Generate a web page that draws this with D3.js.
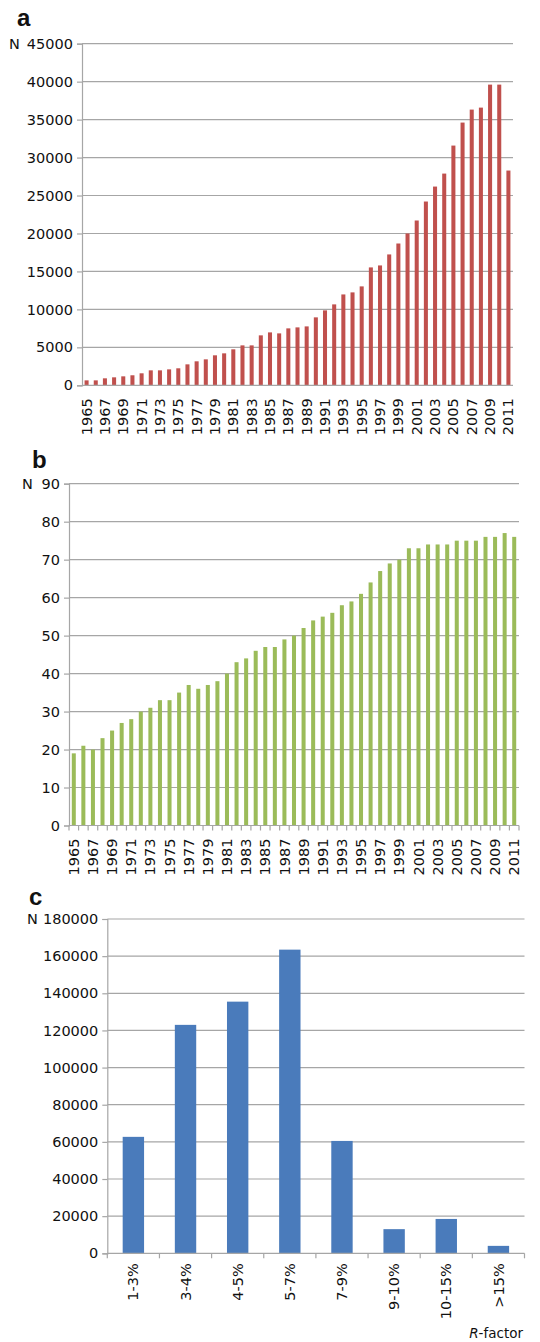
<!DOCTYPE html>
<html>
<head>
<meta charset="utf-8">
<script src="https://cdn.jsdelivr.net/npm/d3@7"></script>
<style>
  html, body { margin: 0; padding: 0; background: #fff; }
  svg { display: block; }
  text { font-family: "DejaVu Sans", Verdana, sans-serif; fill: #111; }
  .panel-letter { font-family: "Liberation Sans", Arial, sans-serif; font-weight: bold; font-size: 24px; }
</style>
</head>
<body>
<svg id="fig" width="540" height="1342"></svg>
<script>
// Years covered by panels a and b
const years = d3.range(1965, 2012);

// Panel a: number of entries per year
const entriesPerYear = [
  650, 650, 920, 1050, 1180, 1320, 1580, 1970, 1970, 2100,
  2240, 2760, 3160, 3420, 3950, 4210, 4740, 5260, 5260, 6580,
  6970, 6840, 7500, 7630, 7760, 8950, 9870, 10660, 11970, 12240,
  13030, 15530, 15790, 17240, 18680, 20000, 21710, 24210, 26180, 27890,
  31580, 34610, 36320, 36580, 39610, 39610, 28290
];

// Panel b: second yearly count
const countPerYear = [
  19, 21, 20, 23, 25, 27, 28, 30, 31, 33,
  33, 35, 37, 36, 37, 38, 40, 43, 44, 46,
  47, 47, 49, 50, 52, 54, 55, 56, 58, 59,
  61, 64, 67, 69, 70, 73, 73, 74, 74, 74,
  75, 75, 75, 76, 76, 77, 76
];

// Panel c: distribution over R-factor ranges
const rFactorBins = ["1-3%", "3-4%", "4-5%", "5-7%", "7-9%", "9-10%", "10-15%", ">15%"];
const rFactorCounts = [62700, 123000, 135500, 163500, 60500, 13000, 18500, 4000];

// Axis tick values
const ticksA = d3.range(0, 45001, 5000);
const ticksB = d3.range(0, 91, 10);
const ticksC = d3.range(0, 180001, 20000);
const yearLabels = years.filter(y => (y - 1965) % 2 === 0);

const svg = d3.select("#fig");
const gridColor = "#a6a6a6";
const fontSize = 14.5;

function drawPanel(opt) {
  const g = svg.append("g");
  const x = d3.scaleBand()
    .domain(opt.categories)
    .range([opt.left, opt.right])
    .paddingInner(opt.pad)
    .paddingOuter(opt.pad / 2);
  const y = d3.scaleLinear()
    .domain([0, opt.max])
    .range([opt.bottom, opt.top]);

  // horizontal gridlines
  g.append("g").selectAll("line")
    .data(opt.yTicks.filter(t => t > 0))
    .join("line")
    .attr("x1", opt.left).attr("x2", opt.right)
    .attr("y1", d => y(d)).attr("y2", d => y(d))
    .attr("stroke", gridColor).attr("stroke-width", 1.2);

  // y axis
  const yAxis = d3.axisLeft(y).tickValues(opt.yTicks).tickSize(5).tickPadding(4).tickFormat(d3.format("d"));
  const ya = g.append("g").attr("transform", `translate(${opt.left},0)`).call(yAxis);
  ya.select(".domain").attr("stroke", gridColor).attr("stroke-width", 1.2);
  ya.selectAll(".tick line").attr("stroke", gridColor).attr("stroke-width", 1.2);
  ya.selectAll(".tick text").attr("font-family", "DejaVu Sans").attr("font-size", fontSize).attr("fill", "#111");

  // bars
  g.append("g").selectAll("rect")
    .data(opt.values)
    .join("rect")
    .attr("x", (d, i) => x(opt.categories[i]))
    .attr("width", x.bandwidth())
    .attr("y", d => y(d))
    .attr("height", d => y(0) - y(d))
    .attr("fill", opt.color);

  // x baseline and category ticks
  g.append("line")
    .attr("x1", opt.left).attr("x2", opt.right)
    .attr("y1", opt.bottom).attr("y2", opt.bottom)
    .attr("stroke", gridColor).attr("stroke-width", 1.2);
  if (opt.catTicks) {
    const step = x.step();
    const bounds = d3.range(opt.categories.length + 1).map(i => opt.left + i * step);
    g.append("g").selectAll("line")
      .data(bounds)
      .join("line")
      .attr("x1", d => d).attr("x2", d => d)
      .attr("y1", opt.bottom).attr("y2", opt.bottom + 5)
      .attr("stroke", gridColor).attr("stroke-width", 1.2);
  }

  // rotated category labels
  g.append("g").selectAll("text")
    .data(opt.labels)
    .join("text")
    .attr("transform", d => `translate(${x(d) + x.bandwidth() / 2},${opt.bottom + opt.labelGap}) rotate(-90)`)
    .attr("text-anchor", "end")
    .attr("dy", "0.35em")
    .attr("font-size", fontSize)
    .text(d => d);

  // "N" axis title and panel letter
  g.append("text").attr("x", opt.nX).attr("y", opt.top).attr("dy", "0.35em")
    .attr("font-size", fontSize).text("N");
  g.append("text").attr("class", "panel-letter")
    .attr("x", opt.letterX).attr("y", opt.letterY).text(opt.letter);
  return g;
}

drawPanel({
  categories: years, values: entriesPerYear, labels: yearLabels,
  left: 82, right: 513, top: 43.7, bottom: 385.3, max: 45000, yTicks: ticksA,
  pad: 0.56, color: "#c0504d", catTicks: false, labelGap: 13,
  nX: 9, letter: "a", letterX: 17, letterY: 26
});

drawPanel({
  categories: years, values: countPerYear, labels: yearLabels,
  left: 69, right: 519, top: 483.7, bottom: 825.5, max: 90, yTicks: ticksB,
  pad: 0.58, color: "#9bbb59", catTicks: true, labelGap: 13,
  nX: 22, letter: "b", letterX: 32, letterY: 468
});

const panelC = drawPanel({
  categories: rFactorBins, values: rFactorCounts, labels: rFactorBins,
  left: 107.3, right: 524.5, top: 919, bottom: 1253.3, max: 180000, yTicks: ticksC,
  pad: 0.59, color: "#4a7bbb", catTicks: true, labelGap: 10,
  nX: 27, letter: "c", letterX: 29, letterY: 905
});

// x-axis title of panel c
const rTitle = panelC.append("text")
  .attr("x", 523).attr("y", 1338).attr("text-anchor", "end").attr("font-size", 13.5);
rTitle.append("tspan").attr("font-style", "italic").text("R");
rTitle.append("tspan").text("-factor");
</script>
</body>
</html>
